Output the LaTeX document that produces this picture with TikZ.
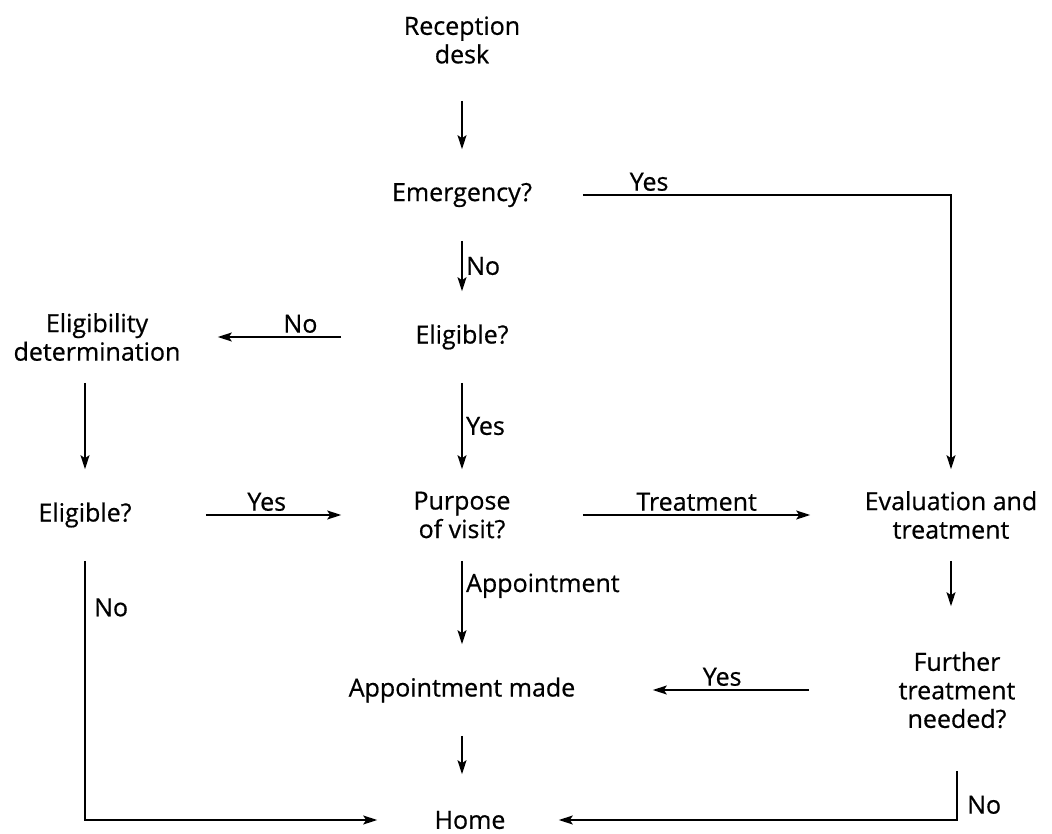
\documentclass[tikz,border=0pt]{standalone}
\usepackage{fontspec}
\setmainfont{Open Sans}[FakeBold=0.6]
\usetikzlibrary{matrix,arrows.meta}

\begin{document}
\begin{tikzpicture}[x=1pt, y=1pt, line width=1.6pt, >={Stealth[length=14pt,width=9pt,inset=3pt]},
  every node/.style={font=\fontsize{25}{28.5}\selectfont},
  step box/.style={anchor=center, align=center, minimum width=240pt, minimum height=90pt}]
  \useasboundingbox[fill=white] (0,0) rectangle (1052,-834);
  \matrix (m) [row sep=0pt, column sep=125pt, matrix anchor=desk.center] at (462,-40)
  {
 & \node[step box] (desk) {Reception\\desk}; \\[65pt]
 & \node[step box] (emerg) {Emergency?}; \\[52pt]
\node[step box, xshift=12pt] (determ) {Eligibility\\determination}; & \node[step box] (elig) {Eligible?}; \\[88pt]
\node[step box] (eligb) {Eligible?}; & \node[step box] (purpose) {Purpose\\of visit?}; &[116pt] \node[step box] (eval) {Evaluation and\\treatment}; \\[85pt]
 & \node[step box] (appt) {Appointment made}; &[116pt] \node[step box, xshift=6pt] (further) {Further\\treatment\\needed?}; \\[40pt]
 & \node[step box, xshift=8pt] (home) {Home}; \\
  };
  \path[->]
  (desk) edge[shorten <=15pt] (emerg)
  (emerg) edge node [right] {No} (elig)
  (elig) edge node [above, pos=0.33] {No} (determ)
  (elig) edge node [right] {Yes} (purpose)
  (determ.south -| eligb) edge (eligb)
  (eligb) edge node [above, pos=0.45] {Yes} (purpose)
  (purpose) edge[shorten >=20pt] node [above, pos=0.46] {Treatment} (eval)
  (eval) edge[shorten >=38pt] (eval |- further.north)
  (purpose) edge node [right, pos=0.3] {Appointment} (appt)
  (further) edge[shorten <=27pt, shorten >=70pt] node [above, pos=0.45] {Yes} (appt)
  (appt) edge (appt |- home.north)
;
  \draw[->] (emerg) -| node [above, pos=0.09] {Yes} (eval);
  \draw[->] (eligb) |- node [right, pos=0.09, xshift=5pt] {No} ([xshift=28pt]home.west);
  \draw[->, shorten <=35pt] (further) |- node [right, pos=0.41, xshift=6pt] {No} ([xshift=-32pt]home.east);
\end{tikzpicture}
\end{document}
